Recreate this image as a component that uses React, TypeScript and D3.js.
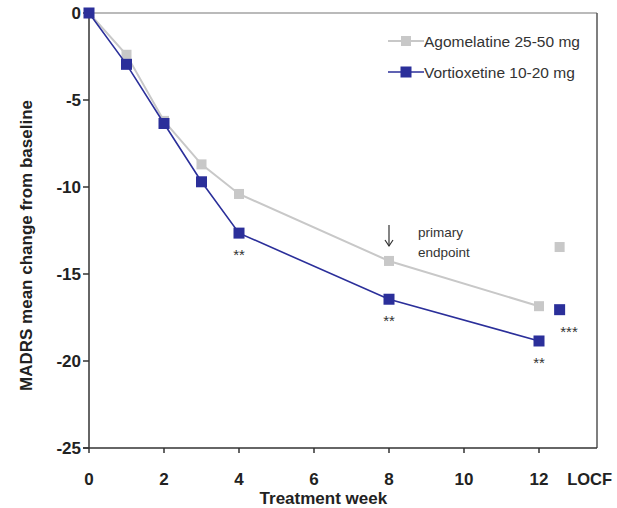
import React from "react";
import * as d3 from "d3";

const weeks = [0, 1, 2, 3, 4, 8, 12];
const agomelatine = [0, -2.4, -6.2, -8.7, -10.4, -14.25, -16.85];
const vortioxetine = [0, -2.95, -6.35, -9.7, -12.65, -16.45, -18.85];
const locfWeek = 12.55;
const agomelatineLocf = -13.45;
const vortioxetineLocf = -17.05;
const xTicks = [0, 2, 4, 6, 8, 10, 12];
const yTicks = [0, -5, -10, -15, -20, -25];
const stars = [
  { week: 4, value: -12.65, label: "**" },
  { week: 8, value: -16.45, label: "**" },
  { week: 12, value: -18.85, label: "**" },
  { week: 12.8, value: -17.05, label: "***" },
];

const GREY = "#c8c8c8";
const BLUE = "#2b2f9a";
const FONT = "Liberation Sans, Arial, sans-serif";

const App = () => {
  const width = 617;
  const height = 508;
  const left = 89;
  const right = 597;
  const top = 13;
  const bottom = 448;

  const x = d3.scaleLinear().domain([0, 12]).range([left, 539]);
  const y = d3.scaleLinear().domain([0, -25]).range([top, bottom]);

  const line = d3
    .line<[number, number]>()
    .x((d) => x(d[0]))
    .y((d) => y(d[1]));

  const agoPts = weeks.map((w, i) => [w, agomelatine[i]] as [number, number]);
  const vorPts = weeks.map((w, i) => [w, vortioxetine[i]] as [number, number]);

  return (
    <svg
      width={width}
      height={height}
      style={{ position: "absolute", left: 0, top: 0, background: "#fff" }}
      fontFamily={FONT}
    >
      {/* frame */}
      <line x1={left} x2={right} y1={top} y2={top} stroke="#777" strokeWidth={1.2} />
      <line x1={right} x2={right} y1={top} y2={bottom} stroke="#555" strokeWidth={1.5} />
      <line x1={left} x2={left} y1={top} y2={bottom} stroke="#333" strokeWidth={1.5} />
      <line x1={left - 6} x2={right} y1={bottom} y2={bottom} stroke="#333" strokeWidth={1.5} />

      {yTicks.map((t) => (
        <g key={"y" + t}>
          <line x1={left - 6} x2={left} y1={y(t)} y2={y(t)} stroke="#333" strokeWidth={1.5} />
          <text
            x={left - 8}
            y={y(t)}
            dy="0.36em"
            textAnchor="end"
            fontSize={17}
            fontWeight="bold"
            fill="#222"
          >
            {t}
          </text>
        </g>
      ))}

      {xTicks.map((t) => (
        <g key={"x" + t}>
          <line x1={x(t)} x2={x(t)} y1={bottom} y2={bottom + 5} stroke="#333" strokeWidth={1.5} />
          <text
            x={x(t)}
            y={bottom + 37}
            textAnchor="middle"
            fontSize={17}
            fontWeight="bold"
            fill="#222"
          >
            {t}
          </text>
        </g>
      ))}
      <text x={x(13.35)} y={bottom + 37} textAnchor="middle" fontSize={16.5} fontWeight="bold" fill="#222">
        LOCF
      </text>

      <text
        x={x(6.25)}
        y={bottom + 56}
        textAnchor="middle"
        fontSize={17}
        fontWeight="bold"
        fill="#222"
      >
        Treatment week
      </text>
      <text
        transform={`translate(32, ${(top + bottom) / 2 + 15}) rotate(-90)`}
        textAnchor="middle"
        fontSize={17}
        fontWeight="bold"
        fill="#222"
      >
        MADRS mean change from baseline
      </text>

      {/* series */}
      <path d={line(agoPts) ?? ""} fill="none" stroke={GREY} strokeWidth={2} />
      {agoPts.map((d, i) => (
        <rect key={"a" + i} x={x(d[0]) - 5} y={y(d[1]) - 5} width={10} height={10} fill={GREY} />
      ))}
      <rect x={x(locfWeek) - 5} y={y(agomelatineLocf) - 5} width={10} height={10} fill={GREY} />

      <path d={line(vorPts) ?? ""} fill="none" stroke={BLUE} strokeWidth={1.6} />
      {vorPts.map((d, i) => (
        <rect key={"v" + i} x={x(d[0]) - 5.5} y={y(d[1]) - 5.5} width={11} height={11} fill={BLUE} />
      ))}
      <rect x={x(locfWeek) - 5.5} y={y(vortioxetineLocf) - 5.5} width={11} height={11} fill={BLUE} />

      {stars.map((s, i) => (
        <text
          key={"s" + i}
          x={x(s.week)}
          y={y(s.value) + 27}
          textAnchor="middle"
          fontSize={15}
          fill="#333"
        >
          {s.label}
        </text>
      ))}

      {/* primary endpoint */}
      <g stroke="#333" strokeWidth={1.2} fill="none">
        <line x1={x(8)} x2={x(8)} y1={225} y2={246} />
        <polyline points={`${x(8) - 4},${240} ${x(8)},${246} ${x(8) + 4},${240}`} />
      </g>
      <text x={418} y={237} fontSize={13.5} fill="#333">
        primary
      </text>
      <text x={418} y={257} fontSize={13.5} fill="#333">
        endpoint
      </text>

      {/* legend */}
      <line x1={388} x2={424} y1={41} y2={41} stroke={GREY} strokeWidth={2} />
      <rect x={401} y={36} width={10} height={10} fill={GREY} />
      <text x={424} y={46.5} fontSize={15.5} fill="#333">
        Agomelatine 25-50 mg
      </text>
      <line x1={388} x2={424} y1={72} y2={72} stroke={BLUE} strokeWidth={1.6} />
      <rect x={400.5} y={66.5} width={11} height={11} fill={BLUE} />
      <text x={424} y={77.5} fontSize={15.5} fill="#333">
        Vortioxetine 10-20 mg
      </text>
    </svg>
  );
};

export default App;
